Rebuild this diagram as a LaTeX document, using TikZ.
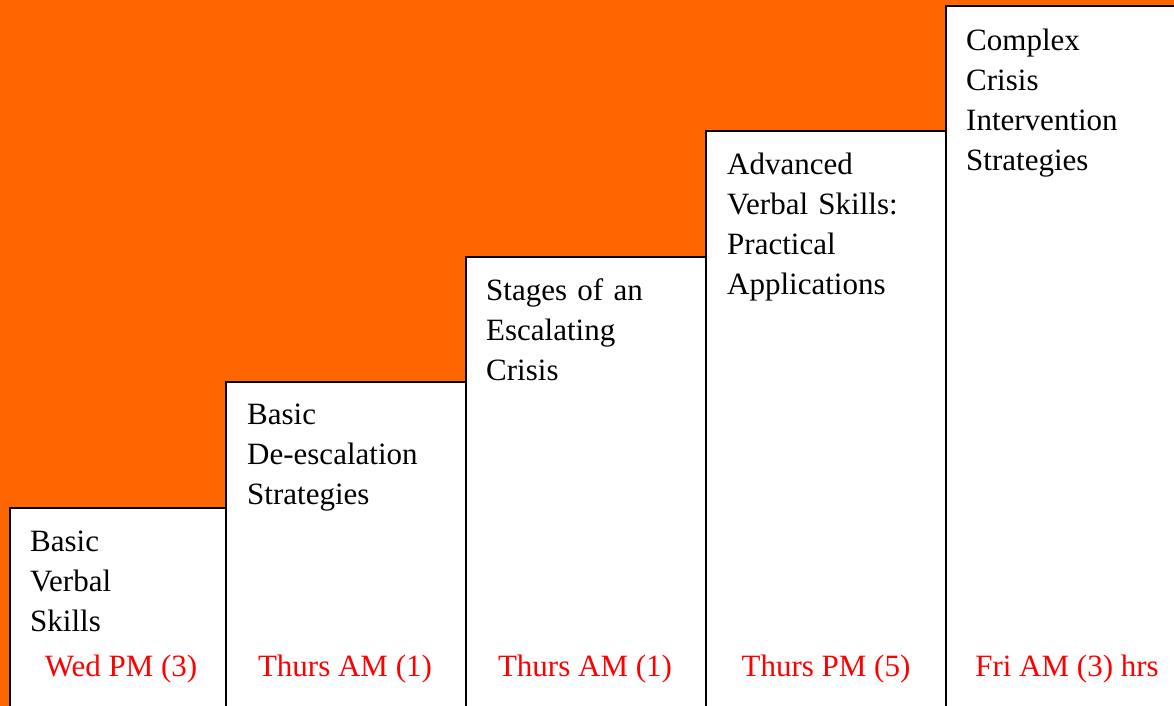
\documentclass[tikz,border=0pt]{standalone}
\usepackage{fontspec}
\setmainfont{Liberation Serif}
\definecolor{bgorange}{HTML}{FF6600}
\definecolor{labelred}{HTML}{FF0000}
\begin{document}
\begin{tikzpicture}[x=1pt,y=1pt,
  stepbox/.style={draw=black, line width=2pt, fill=white, anchor=south west,
    inner sep=0pt, outer sep=0pt},
  steptext/.style={anchor=base west, inner sep=0pt, align=left, text width=200pt,
    font=\fontsize{31}{40}\selectfont},
  daylabel/.style={anchor=base, inner sep=0pt, text=labelred,
    font=\fontsize{31}{40}\selectfont}]
  % page and orange backdrop
  \useasboundingbox (0,0) rectangle (1174,706);
  \fill[bgorange] (0,0) rectangle (1174,706);

  % the five rising steps
  \node[stepbox, minimum width=216pt, minimum height=218pt] (s1) at (10,-20) {};
  \node[stepbox, minimum width=240pt, minimum height=344pt] (s2) at (226,-20) {};
  \node[stepbox, minimum width=240pt, minimum height=469pt] (s3) at (466,-20) {};
  \node[stepbox, minimum width=240pt, minimum height=595pt] (s4) at (706,-20) {};
  \node[stepbox, minimum width=244pt, minimum height=720pt] (s5) at (946,-20) {};

  % step titles
  \node[steptext] (t1) at (30,154) {Basic\\Verbal\\Skills};
  \node[steptext] (t2) at (247,281) {Basic\\De-escalation\\Strategies};
  \node[steptext] (t3) at (486,405) {Stages of an\\Escalating\\Crisis};
  \node[steptext] (t4) at (727,531) {Advanced\\Verbal Skills:\\Practical\\Applications};
  \node[steptext] (t5) at (966,655) {Complex\\Crisis\\Intervention\\Strategies};

  % session times
  \node[daylabel] (d1) at (121,29) {Wed PM (3)};
  \node[daylabel] (d2) at (345,29) {Thurs AM (1)};
  \node[daylabel] (d3) at (585,29) {Thurs AM (1)};
  \node[daylabel] (d4) at (826,29) {Thurs PM (5)};
  \node[daylabel] (d5) at (1067,29) {Fri AM (3) hrs};
\end{tikzpicture}
\end{document}
